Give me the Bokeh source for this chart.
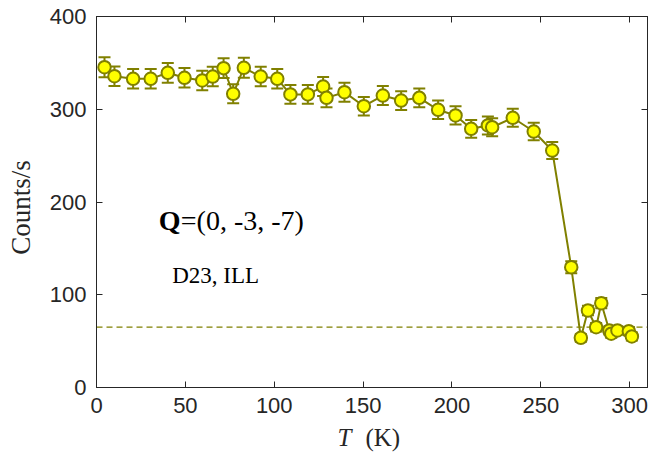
import math
from bokeh.plotting import figure
from bokeh.layouts import column, row
from bokeh.models import (ColumnDataSource, Whisker, TeeHead, Span, Label,
                          LinearAxis, FixedTicker, Range1d)
from bokeh.embed import file_html
from bokeh.resources import INLINE

# ---- data ----
temperature = [4.5, 10.1, 20.6, 30.5, 40.1, 49.5, 59.5, 65.4, 71.5, 76.9,
               82.9, 92.4, 101.7, 109.1, 118.9, 127.5, 129.4, 139.5, 150.4, 161.1,
               171.4, 181.6, 192.2, 202.0, 210.8, 220.2, 222.6, 234.2, 246.0, 256.4,
               267.1, 272.5, 276.5, 281.1, 284.0, 288.5, 289.6, 293.1, 299.5, 301.2]
counts = [345.3, 335.6, 332.8, 332.8, 339.3, 333.9, 331.0, 335.3, 344.3, 316.7,
          344.7, 335.3, 332.8, 316.0, 316.0, 324.5, 312.3, 318.4, 303.3, 314.8,
          309.4, 312.3, 299.4, 293.3, 278.9, 282.5, 280.6, 290.8, 276.0, 255.5,
          129.7, 53.6, 83.0, 65.0, 90.9, 61.5, 58.0, 61.5, 60.7, 55.0]
errors = [10.8, 10.5, 10.5, 10.5, 10.6, 10.5, 10.5, 10.5, 10.7, 10.2,
          10.7, 10.5, 10.5, 10.2, 10.2, 10.3, 10.1, 10.2, 10.0, 10.2,
          10.1, 10.1, 9.9, 9.8, 9.6, 9.6, 9.6, 9.8, 9.5, 9.2,
          6.5, 4.2, 5.2, 4.6, 5.5, 4.4, 4.3, 4.4, 4.4, 4.2]
background_level = 65
x_ticks = [0, 50, 100, 150, 200, 250, 300]
y_ticks = [0, 100, 200, 300, 400]

OLIVE = "#808000"
YELLOW = "#FFFF00"
AX = "#262626"
SERIF = "Liberation Serif"

src = ColumnDataSource(dict(
    T=temperature, c=counts,
    upper=[c + e for c, e in zip(counts, errors)],
    lower=[c - e for c, e in zip(counts, errors)],
))

LEFT_STRIP = 40
p = figure(width=653 - LEFT_STRIP, height=422, x_range=Range1d(0, 310), y_range=Range1d(0, 400),
           output_backend="svg", toolbar_location=None,
           min_border_left=96 - LEFT_STRIP, min_border_right=6, min_border_top=16,
           min_border_bottom=35)
p.grid.visible = False
p.background_fill_color = "white"
p.border_fill_color = "white"
p.outline_line_color = AX
p.outline_line_width = 1

for ax, ticks in ((p.xaxis[0], x_ticks), (p.yaxis[0], y_ticks)):
    ax.ticker = FixedTicker(ticks=ticks)
    ax.axis_line_color = AX
    ax.major_tick_line_color = AX
    ax.major_tick_in = 6
    ax.major_tick_out = 0
    ax.minor_tick_line_color = None
    ax.major_label_text_font = "Liberation Sans"
    ax.major_label_text_font_size = "22px"
    ax.major_label_text_color = AX
p.xaxis[0].major_label_standoff = 10
p.yaxis[0].major_label_standoff = 10

for loc, ticks in (("right", y_ticks), ("above", x_ticks)):
    ax = LinearAxis(ticker=FixedTicker(ticks=ticks))
    ax.axis_line_color = AX
    ax.major_tick_line_color = AX
    ax.major_tick_in = 6
    ax.major_tick_out = 0
    ax.minor_tick_line_color = None
    ax.major_label_text_color = None
    ax.major_label_text_font_size = "1px"
    ax.major_label_standoff = 0
    p.add_layout(ax, loc)

p.add_layout(Span(location=background_level, dimension="width", line_color=OLIVE,
                  line_width=1.2, line_dash="6 4", level="underlay"))

p.line("T", "c", source=src, line_color=OLIVE, line_width=2)
p.add_layout(Whisker(base="T", upper="upper", lower="lower", source=src,
                     line_color=OLIVE, line_width=2,
                     upper_head=TeeHead(size=12, line_color=OLIVE, line_width=2),
                     lower_head=TeeHead(size=12, line_color=OLIVE, line_width=2)))
p.scatter("T", "c", source=src, size=12.5, marker="circle", fill_color=YELLOW,
          line_color=OLIVE, line_width=2)

p.add_layout(Label(x=35.05, y=180, text="Q", text_font=SERIF, text_font_style="bold",
                   text_font_size="28px", text_color="black", text_baseline="alphabetic"))
p.add_layout(Label(x=35.05, y=180, x_offset=22, text="=(0, -3, -7)", text_font=SERIF,
                   text_font_size="28px", text_color="black", text_baseline="alphabetic"))
p.add_layout(Label(x=42.6, y=120.5, text="D23, ILL", text_font=SERIF,
                   text_font_size="23px", text_color="black", text_baseline="alphabetic"))

# x-axis title strip (italic T + upright (K))
xl = figure(width=653 - LEFT_STRIP, height=32, x_range=p.x_range, y_range=Range1d(0, 32),
            output_backend="svg", toolbar_location=None,
            min_border_left=96 - LEFT_STRIP, min_border_right=6, min_border_top=0,
            min_border_bottom=0)
xl.axis.visible = False
xl.grid.visible = False
xl.outline_line_color = None
xl.background_fill_color = "white"
xl.border_fill_color = "white"
xl.add_layout(Label(x=135.6, y=17, text="T", text_font=SERIF, text_font_style="italic",
                    text_font_size="25px", text_color=AX, text_baseline="alphabetic"))
xl.add_layout(Label(x=151.3, y=17, text="(K)", text_font=SERIF,
                    text_font_size="25px", text_color=AX, text_baseline="alphabetic"))

# y-axis title strip
yl = figure(width=LEFT_STRIP, height=454, x_range=Range1d(0, LEFT_STRIP), y_range=Range1d(0, 454),
            output_backend="svg", toolbar_location=None,
            min_border_left=0, min_border_right=0, min_border_top=0, min_border_bottom=0)
yl.axis.visible = False
yl.grid.visible = False
yl.outline_line_color = None
yl.background_fill_color = "white"
yl.border_fill_color = "white"
yl.add_layout(Label(x=20, y=247, text="Counts/s", angle=math.pi / 2, text_font=SERIF,
                    text_font_size="27px", text_color=AX, text_align="center",
                    text_baseline="middle"))

layout = row(yl, column(p, xl, spacing=0), spacing=0)
open("out.html", "w").write(file_html(layout, INLINE))
